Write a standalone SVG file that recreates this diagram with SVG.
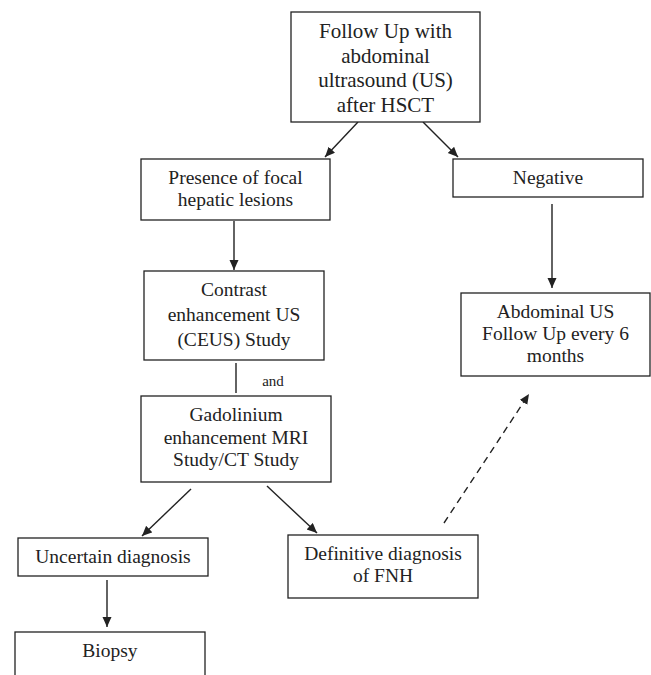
<svg xmlns="http://www.w3.org/2000/svg" width="651" height="675" viewBox="0 0 651 675">
<style>
.box{fill:#fff;stroke:#222;stroke-width:1.3}
.t{font-family:'Liberation Serif','Times New Roman',Times,'DejaVu Serif',serif;font-size:19.5px;fill:#222;text-anchor:middle}
.big{font-size:21px}
.sm{font-size:15px}
.c{stroke:#222;stroke-width:1.4;fill:none}
.d{stroke-dasharray:7,5}
</style>
<defs>
<marker id="ah" markerUnits="userSpaceOnUse" markerWidth="11" markerHeight="10" refX="10" refY="4.5" orient="auto">
<path d="M0,0 L10,4.5 L0,9 z" fill="#222"/>
</marker>
</defs>
<rect width="651" height="675" fill="#fff"/>
<g id="connectors">
<line class="c" x1="358" y1="122" x2="325" y2="157" marker-end="url(#ah)"/>
<line class="c" x1="423" y1="122" x2="458" y2="157" marker-end="url(#ah)"/>
<line class="c" x1="234" y1="221" x2="234" y2="270" marker-end="url(#ah)"/>
<line class="c" x1="552" y1="204" x2="552" y2="288" marker-end="url(#ah)"/>
<line class="c" x1="236" y1="363" x2="236" y2="393"/>
<text class="t sm" x="273" y="386" font-family="Liberation Serif, serif">and</text>
<line class="c" x1="191" y1="489" x2="142" y2="536" marker-end="url(#ah)"/>
<line class="c" x1="267" y1="486" x2="317" y2="533" marker-end="url(#ah)"/>
<line class="c" x1="107" y1="580" x2="107" y2="627" marker-end="url(#ah)"/>
<line class="c d" x1="444" y1="523" x2="529" y2="394" marker-end="url(#ah)"/>
</g>
<g id="n-followup" font-family="Liberation Serif, serif">
<rect class="box" x="291" y="12" width="189" height="110"/>
<text class="t big" x="385.5" y="38">Follow Up with</text>
<text class="t big" x="385.5" y="62.5">abdominal</text>
<text class="t big" x="385.5" y="87">ultrasound (US)</text>
<text class="t big" x="385.5" y="111.5">after HSCT</text>
</g>
<g id="n-presence">
<rect class="box" x="141" y="159" width="189" height="61"/>
<text class="t" x="235.5" y="184">Presence of focal</text>
<text class="t" x="235.5" y="206">hepatic lesions</text>
</g>
<g id="n-negative">
<rect class="box" x="453" y="159" width="190" height="38"/>
<text class="t" x="548" y="184">Negative</text>
</g>
<g id="n-abdominal">
<rect class="box" x="461" y="293" width="189" height="83"/>
<text class="t" x="555.5" y="318">Abdominal US</text>
<text class="t" x="555.5" y="340">Follow Up every 6</text>
<text class="t" x="555.5" y="362">months</text>
</g>
<g id="n-contrast">
<rect class="box" x="144" y="271" width="180" height="89"/>
<text class="t" x="234" y="296">Contrast</text>
<text class="t" x="234" y="321">enhancement US</text>
<text class="t" x="234" y="346">(CEUS) Study</text>
</g>
<g id="n-gadolinium">
<rect class="box" x="141" y="396" width="190" height="86"/>
<text class="t" x="236" y="421">Gadolinium</text>
<text class="t" x="236" y="443.5">enhancement MRI</text>
<text class="t" x="236" y="466">Study/CT Study</text>
</g>
<g id="n-uncertain">
<rect class="box" x="18" y="538" width="190" height="38"/>
<text class="t" x="113" y="563">Uncertain diagnosis</text>
</g>
<g id="n-definitive">
<rect class="box" x="288" y="535" width="190" height="63"/>
<text class="t" x="383" y="560">Definitive diagnosis</text>
<text class="t" x="383" y="582">of FNH</text>
</g>
<g id="n-biopsy">
<rect class="box" x="15" y="632" width="190" height="70"/>
<text class="t" x="110" y="657">Biopsy</text>
</g>
</svg>
